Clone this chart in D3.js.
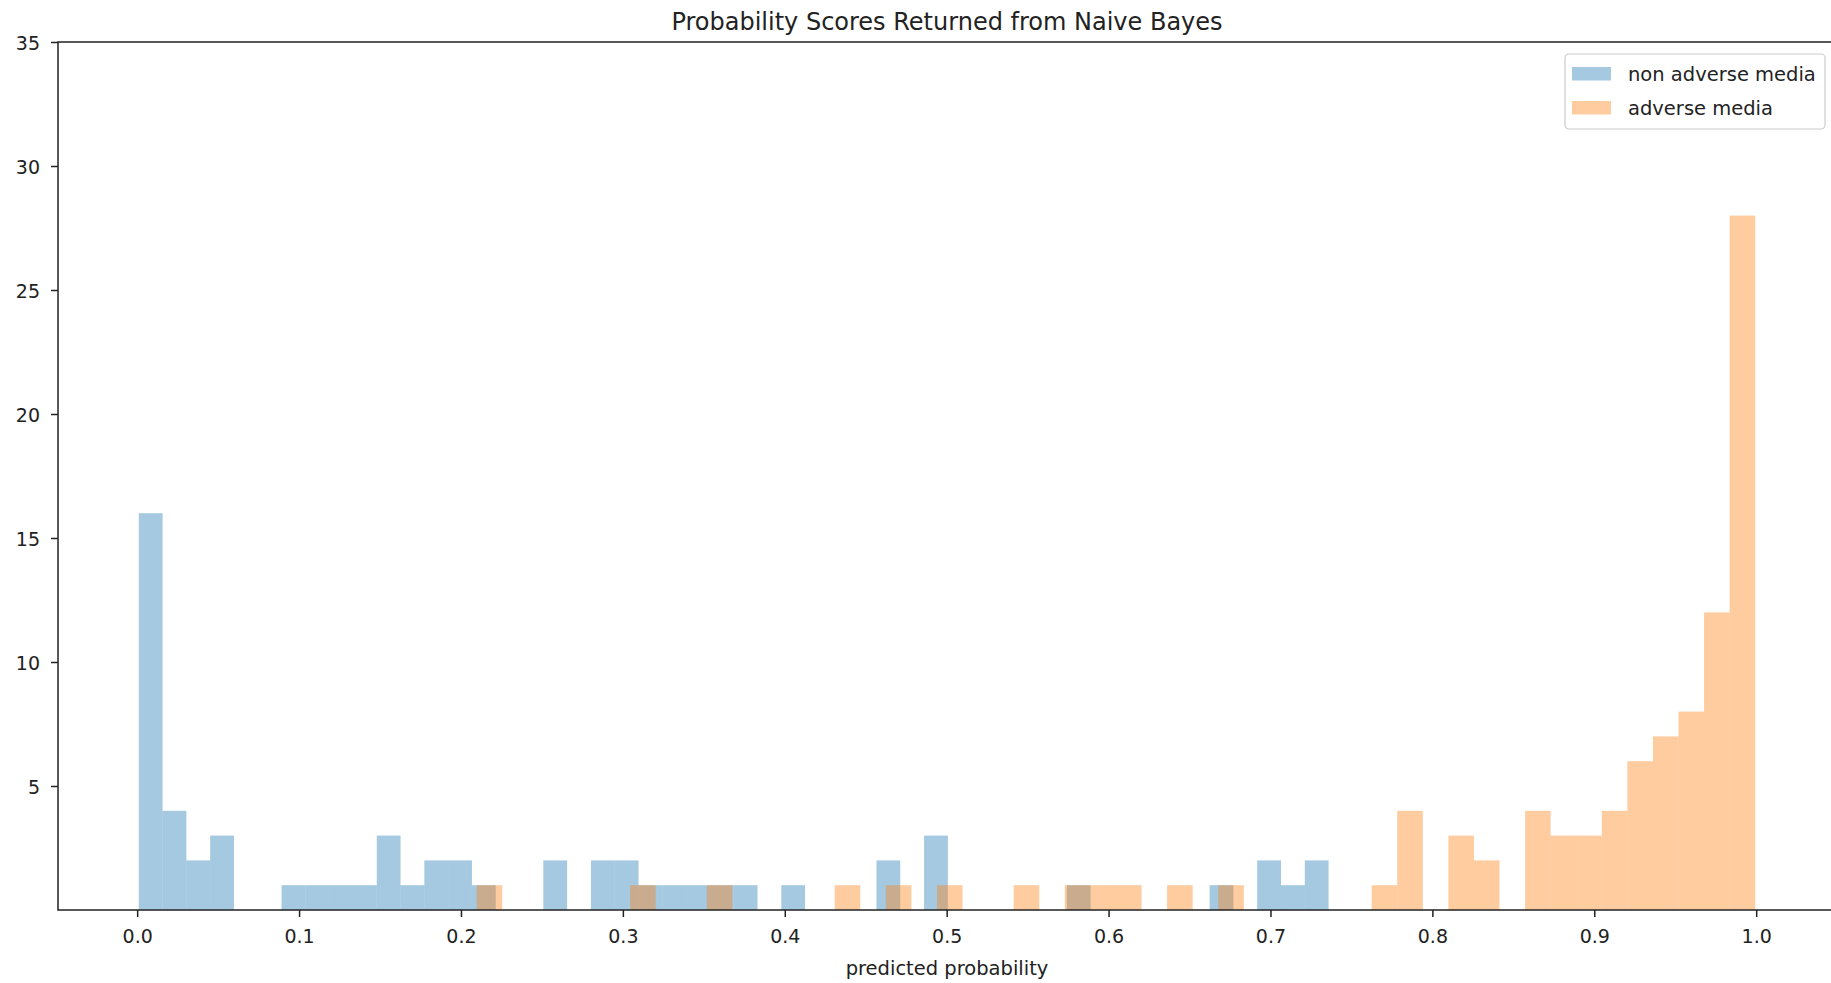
<!DOCTYPE html>
<html>
<head>
<meta charset="utf-8">
<script src="https://cdn.jsdelivr.net/npm/d3@7"></script>
<style>
  body { margin: 0; background: #fff; }
  svg text { font-family: "DejaVu Sans", sans-serif; fill: #222; }
</style>
</head>
<body>
<div id="chart"></div>
<script>
// histogram counts, 50 bins per series
const seriesNames = ["non adverse media", "adverse media"];
const seriesColors = ["#1f77b4", "#ff7f0e"];

// bin range (min, max of predicted probabilities) for each series
const nonAdverseRange = [0.0010, 0.7359];
const adverseRange = [0.2097, 0.9994];

const nonAdverseCounts = [
  16, 4, 2, 3, 0, 0, 1, 1, 1, 1,
  3, 1, 2, 2, 1, 0, 0, 2, 0, 2,
  2, 1, 1, 1, 1, 1, 0, 1, 0, 0,
  0, 2, 0, 3, 0, 0, 0, 0, 0, 1,
  0, 0, 0, 0, 0, 1, 0, 2, 1, 2
];
const adverseCounts = [
  1, 0, 0, 0, 0, 0, 1, 0, 0, 1,
  0, 0, 0, 0, 1, 0, 1, 0, 1, 0,
  0, 1, 0, 1, 1, 1, 0, 1, 0, 1,
  0, 0, 0, 0, 0, 1, 4, 0, 3, 2,
  0, 4, 3, 3, 4, 6, 7, 8, 12, 28
];

const xTicks = [0.0, 0.1, 0.2, 0.3, 0.4, 0.5, 0.6, 0.7, 0.8, 0.9, 1.0];
const yTicks = [5, 10, 15, 20, 25, 30, 35];

const width = 1831;
const height = 983;
const plotLeft = 58, plotRight = 1836, plotTop = 42, plotBottom = 910;

function toBins(range, counts) {
    const step = (range[1] - range[0]) / counts.length;
    return counts.map((c, i) => ({ x0: range[0] + i * step, x1: range[0] + (i + 1) * step, count: c }));
}

const svg = d3.select("#chart").append("svg").attr("width", width).attr("height", height);

const xScale = d3.scaleLinear().domain([-0.0489, 1.0493]).range([plotLeft, plotRight]);
const yScale = d3.scaleLinear().domain([0, 35]).range([plotBottom, plotTop]);

// bars
const series = [toBins(nonAdverseRange, nonAdverseCounts), toBins(adverseRange, adverseCounts)];
series.forEach((bins, k) => {
    svg.append("g")
        .selectAll("rect")
        .data(bins.filter(d => d.count > 0))
        .join("rect")
        .attr("x", d => xScale(d.x0))
        .attr("width", d => xScale(d.x1) - xScale(d.x0))
        .attr("y", d => yScale(d.count))
        .attr("height", d => yScale(0) - yScale(d.count))
        .attr("fill", seriesColors[k])
        .attr("fill-opacity", 0.4);
});

// axes
const xAxis = d3.axisBottom(xScale).tickValues(xTicks).tickFormat(d3.format(".1f")).tickSize(7).tickPadding(7);
const gx = svg.append("g").attr("transform", `translate(0, ${plotBottom})`).call(xAxis);
gx.select(".domain").remove();
gx.selectAll("text").style("font-size", "19px").attr("y", 20);

const yAxis = d3.axisLeft(yScale).tickValues(yTicks).tickSize(7).tickPadding(7);
const gy = svg.append("g").attr("transform", `translate(${plotLeft}, 0)`).call(yAxis);
gy.select(".domain").remove();
gy.selectAll("text").style("font-size", "19px").attr("x", -18).attr("dy", "0.42em");

[gx, gy].forEach(g => g.selectAll("line").attr("stroke", "#222").attr("stroke-width", 1.5));

// spines
svg.append("rect")
    .attr("x", plotLeft).attr("y", plotTop)
    .attr("width", plotRight - plotLeft).attr("height", plotBottom - plotTop)
    .attr("fill", "none").attr("stroke", "#222").attr("stroke-width", 1.5);

// title and label
svg.append("text")
    .attr("x", (plotLeft + plotRight) / 2).attr("y", 29.5)
    .attr("text-anchor", "middle")
    .style("font-size", "24px")
    .text("Probability Scores Returned from Naive Bayes");

svg.append("text")
    .attr("x", (plotLeft + plotRight) / 2).attr("y", 975)
    .attr("text-anchor", "middle")
    .style("font-size", "19.5px")
    .text("predicted probability");

// legend
const legend = svg.append("g").attr("transform", "translate(1565, 54)");
legend.append("rect")
    .attr("width", 260).attr("height", 75).attr("rx", 4)
    .attr("fill", "#fff").attr("fill-opacity", 0.8)
    .attr("stroke", "#ccc").attr("stroke-width", 1.2);
seriesNames.forEach((name, k) => {
    legend.append("rect")
        .attr("x", 7).attr("y", 13 + k * 34)
        .attr("width", 39).attr("height", 13.5)
        .attr("fill", seriesColors[k]).attr("fill-opacity", 0.4);
    legend.append("text")
        .attr("x", 63).attr("y", 27 + k * 34)
        .style("font-size", "19.5px")
        .text(name);
});
</script>
</body>
</html>
